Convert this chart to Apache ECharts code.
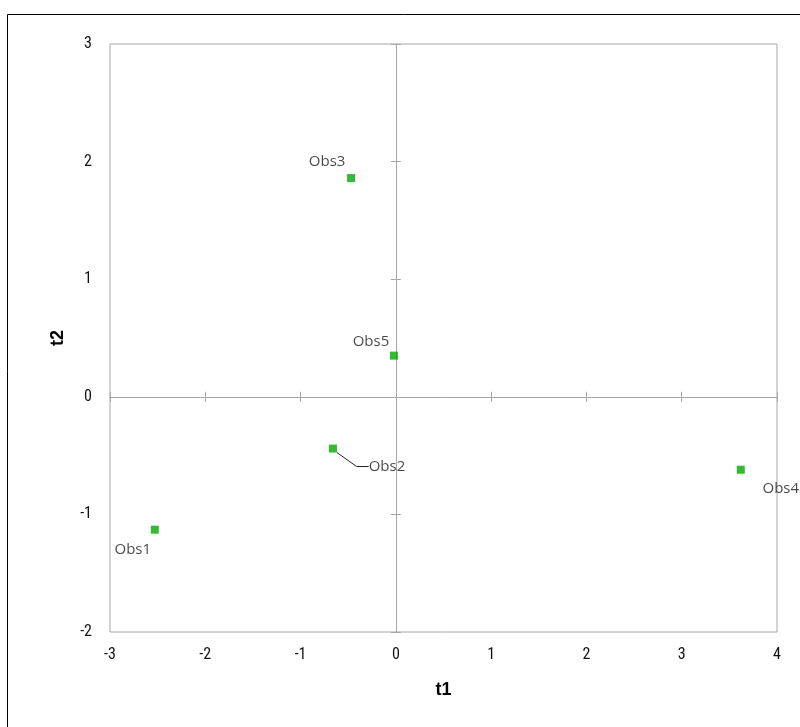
<!DOCTYPE html>
<html><head><meta charset="utf-8">
<script src="https://cdn.jsdelivr.net/npm/echarts@6/dist/echarts.min.js"></script>
<style>html,body{margin:0;padding:0;background:#fff}#c{width:800px;height:727px}</style>
</head><body><div id="c"></div>
<script>
const names = ['Obs1','Obs2','Obs3','Obs4','Obs5'];
const t1 = [-2.53, -0.66, -0.47, 3.62, -0.02];
const t2 = [-1.13, -0.44, 1.86, -0.62, 0.35];
const xTicks = [-3,-2,-1,0,1,2,3,4];
const yTicks = [-2,-1,0,1,2,3];
// label offsets (px) from the point, style only
const labelShift = [[-22,20],[54,18],[-24,-16],[40,19],[-23,-14]];

const chart = echarts.init(document.getElementById('c'));
const gray = '#a6a6a6';
const tickFont = {color:'#111', fontSize:16, fontFamily:'"Liberation Sans Narrow","Roboto Condensed",Arial,sans-serif'};
function zeroAxis(inside){
  return {type:'value', min:xTicks[0], max:xTicks[xTicks.length-1], interval:1,
    axisLine:{show:true,onZero:true,lineStyle:{color:gray,width:1}},
    axisTick:{show:true,inside:inside,length:5,lineStyle:{color:gray}},
    axisLabel:{show:false}, splitLine:{show:false}};
}
function zeroYAxis(inside){
  return {type:'value', min:yTicks[0], max:yTicks[yTicks.length-1], interval:1,
    axisLine:{show:true,onZero:true,lineStyle:{color:gray,width:1}},
    axisTick:{show:true,inside:inside,length:5,lineStyle:{color:gray}},
    axisLabel:{show:false}, splitLine:{show:false}};
}
chart.setOption({
  animation:false,
  graphic:[{type:'rect',shape:{x:7.5,y:14.5,width:820,height:730},style:{fill:'none',stroke:'#000',lineWidth:1},silent:true}],
  grid:{left:110,right:23,top:44,bottom:95,show:true,borderColor:gray,borderWidth:1,backgroundColor:'transparent'},
  xAxis:[
    {type:'value',min:xTicks[0],max:xTicks[xTicks.length-1],interval:1,position:'bottom',
     axisLine:{show:false,onZero:false},axisTick:{show:false},splitLine:{show:false},
     axisLabel:Object.assign({margin:15},tickFont),
     name:'t1',nameLocation:'middle',nameGap:49,
     nameTextStyle:{fontSize:18,fontWeight:'bold',color:'#000',fontFamily:'"Liberation Sans Narrow",Arial,sans-serif'}},
    zeroAxis(true), zeroAxis(false)
  ],
  yAxis:[
    {type:'value',min:yTicks[0],max:yTicks[yTicks.length-1],interval:1,position:'left',
     axisLine:{show:false,onZero:false},axisTick:{show:false},splitLine:{show:false},
     axisLabel:Object.assign({margin:18},tickFont),
     name:'t2',nameLocation:'middle',nameGap:43,nameRotate:90,
     nameTextStyle:{fontSize:18,fontWeight:'bold',color:'#000',fontFamily:'"Liberation Sans Narrow",Arial,sans-serif'}},
    zeroYAxis(true), zeroYAxis(false)
  ],
  series:[{
    type:'scatter', xAxisIndex:0, yAxisIndex:0,
    symbol:'rect', symbolSize:8,
    itemStyle:{color:'#00aa00'},
    data:names.map((n,i)=>({name:n,value:[t1[i],t2[i]],
      labelLine:{show:i===1,lineStyle:{color:'#222',width:1}}})),
    label:{show:true,position:'inside',formatter:p=>p.name,color:'#1a1a1a',fontSize:15,
      fontFamily:'"Open Sans","Noto Sans",sans-serif'},
    labelLine:{show:false,length2:12},
    labelLayout:p=>({dx:labelShift[p.dataIndex][0],dy:labelShift[p.dataIndex][1]})
  }]
});
</script></body></html>
